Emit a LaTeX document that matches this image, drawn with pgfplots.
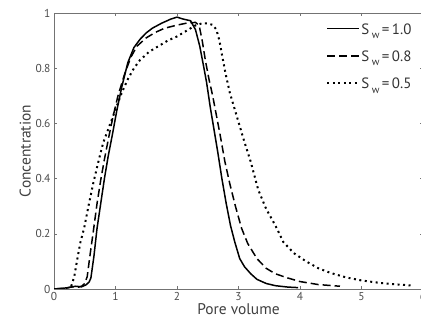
\documentclass[border=0pt]{standalone}
\usepackage{pgfplots}
\pgfplotsset{compat=1.18}
\usepackage{fontspec}
\setmainfont{PT Sans}
\newcommand{\sw}[1]{S\,\raisebox{-0.55ex}{\fontsize{10.5}{11}\selectfont w}\,=\,#1}
\begin{document}
\begin{tikzpicture}
\path[use as bounding box] (0,0) rectangle (421bp,324bp);
\begin{axis}[
  at={(54bp,35bp)}, anchor=south west,
  scale only axis,
  width=369bp, height=276bp,
  xmin=0, xmax=6, ymin=0, ymax=1,
  xtick={0,1,2,3,4,5,6},
  ytick={0,0.2,0.4,0.6,0.8,1},
  yticklabels={0,0.2,0.4,0.6,0.8,1},
  /pgf/number format/assume math mode=true,
  tick align=inside,
  major tick length=3bp,
  axis line style={black!55},
  tick style={black!55},
  tick label style={font=\fontsize{11.5}{13}\selectfont, text=black!70},
  label style={font=\fontsize{15.5}{17}\selectfont, text=black!75},
  xlabel={Pore volume},
  ylabel={Concentration},
  xlabel style={yshift=4bp},
  ylabel style={yshift=-2bp},
  legend style={at={(0.972,0.968)}, anchor=north east, draw=none, fill=none,
    font=\fontsize{15}{16}\selectfont, text=black!80, row sep=11bp,
    inner sep=0pt, nodes={inner xsep=1bp}},
  legend cell align=left,
  legend image code/.code={\draw[#1, line width=1.8pt] (0bp,0.3ex) -- (32bp,0.3ex);},
]
\addplot[black, line width=1.5pt] coordinates {
(0,0) (0.2,0.004) (0.35,0.01) (0.45,0.008) (0.52,0.015) (0.57,0.025)
(0.6,0.04) (0.65,0.12) (0.70,0.22) (0.76,0.31) (0.82,0.40) (0.88,0.48)
(0.95,0.56) (1.02,0.645) (1.1,0.73) (1.2,0.82) (1.3,0.875) (1.4,0.905)
(1.5,0.928) (1.6,0.945) (1.75,0.963) (1.9,0.978) (2.0,0.985) (2.1,0.978)
(2.22,0.972) (2.3,0.94) (2.37,0.88) (2.43,0.81) (2.48,0.75) (2.54,0.66)
(2.6,0.58) (2.66,0.50) (2.73,0.40) (2.80,0.31) (2.87,0.23) (2.94,0.17)
(3.02,0.11) (3.1,0.08) (3.2,0.055) (3.3,0.035) (3.45,0.02) (3.6,0.012)
(3.8,0.007) (3.97,0.005)
};
\addlegendentry{\sw{1.0}}
\addplot[black, line width=1.5pt, dash pattern=on 8bp off 4bp] coordinates {
(0,0) (0.2,0.003) (0.3,0.008) (0.38,0.006) (0.45,0.01) (0.5,0.02)
(0.54,0.045) (0.59,0.13) (0.64,0.21) (0.70,0.31) (0.76,0.395) (0.82,0.47)
(0.89,0.55) (0.96,0.625) (1.04,0.70) (1.15,0.78) (1.25,0.84) (1.35,0.88)
(1.5,0.91) (1.65,0.93) (1.8,0.945) (2.0,0.956) (2.15,0.963) (2.3,0.966)
(2.36,0.955) (2.41,0.90) (2.46,0.83) (2.52,0.76) (2.58,0.70) (2.64,0.63)
(2.7,0.56) (2.78,0.46) (2.86,0.38) (2.95,0.30) (3.05,0.22) (3.15,0.165)
(3.3,0.11) (3.45,0.075) (3.6,0.055) (3.8,0.04) (4.0,0.027) (4.3,0.016)
(4.65,0.01)
};
\addlegendentry{\sw{0.8}}
\addplot[black, line width=2pt, dash pattern=on 2bp off 3.5bp] coordinates {
(0.28,0.01) (0.33,0.045) (0.38,0.11) (0.43,0.17) (0.49,0.22) (0.56,0.30)
(0.64,0.385) (0.72,0.46) (0.80,0.53) (0.9,0.59) (1.0,0.65) (1.1,0.71)
(1.2,0.76) (1.3,0.80) (1.4,0.83) (1.55,0.86) (1.7,0.88) (1.85,0.90)
(2.0,0.915) (2.15,0.935) (2.3,0.955) (2.4,0.962) (2.5,0.962) (2.58,0.957)
(2.64,0.94) (2.69,0.90) (2.73,0.85) (2.79,0.78) (2.86,0.71) (2.94,0.65)
(3.02,0.59) (3.1,0.53) (3.2,0.46) (3.32,0.36) (3.45,0.29) (3.6,0.23)
(3.73,0.17) (3.9,0.13) (4.1,0.10) (4.3,0.075) (4.5,0.058) (4.75,0.042)
(5.0,0.031) (5.3,0.022) (5.55,0.017) (5.8,0.013)
};
\addlegendentry{\sw{0.5}}
\end{axis}
\end{tikzpicture}
\end{document}
